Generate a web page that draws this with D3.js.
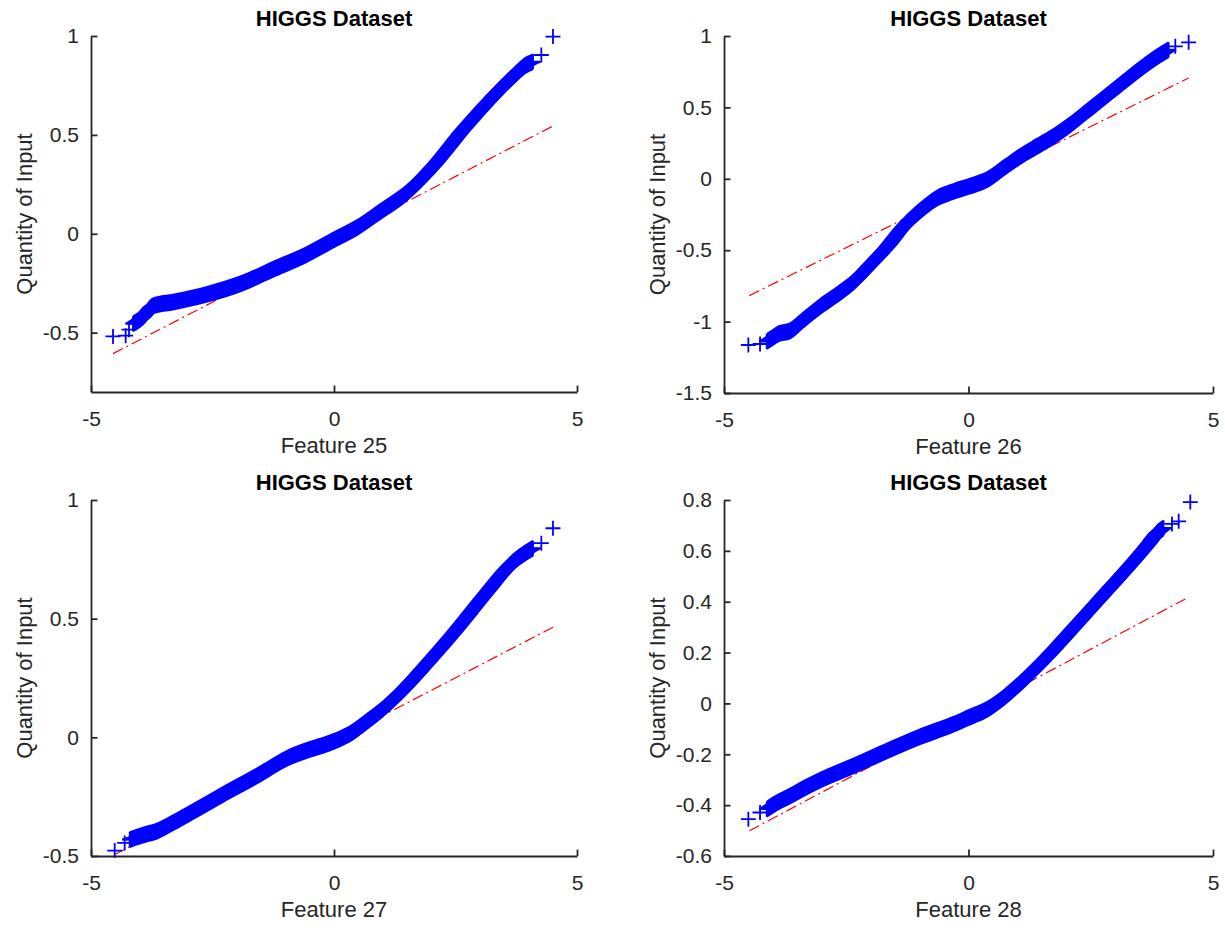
<!DOCTYPE html>
<html><head><meta charset="utf-8">
<script src="https://cdn.jsdelivr.net/npm/d3@7"></script>
<style>
body{margin:0;background:#fff;}
svg{display:block;}
text{font-family:"Liberation Sans",Arial,Helvetica,sans-serif;}
</style>
</head><body>
<svg id="chart" width="1225" height="930"></svg>
<script>
// ---------- DATA ----------
const chartTitle = "HIGGS Dataset";
const yLabel = "Quantity of Input";
const featureNames = ["Feature 25", "Feature 26", "Feature 27", "Feature 28"];
const xTickValues = [-5, 0, 5];

const f25_yDomain = [-0.8, 1];
const f26_yDomain = [-1.5, 1];
const f27_yDomain = [-0.5, 1];
const f28_yDomain = [-0.6, 0.8];
const f25_yTicks = [-0.5, 0, 0.5, 1];
const f26_yTicks = [-1.5, -1, -0.5, 0, 0.5, 1];
const f27_yTicks = [-0.5, 0, 0.5, 1];
const f28_yTicks = [-0.6, -0.4, -0.2, 0, 0.2, 0.4, 0.6, 0.8];

// theoretical (standard normal) quantiles and sample quantiles
const f25_q = [-4.547,-4.287,-4.218,-4.136,-4.033,-3.93,-3.724,-3.313,-2.627,-1.941,-1.255,-0.569,0,0.46,0.94,1.488,2.071,2.654,3.272,3.683,3.957,4.095,4.266,4.506];
const f25_v = [-0.519,-0.515,-0.485,-0.455,-0.44,-0.42,-0.364,-0.345,-0.307,-0.255,-0.18,-0.106,-0.03,0.029,0.11,0.205,0.35,0.525,0.694,0.795,0.854,0.870,0.904,0.997];
const f25_dense = [3, 21];   // index range where markers overlap into a band
const f25_refQ = [-4.547, 4.506];
const f25_refV = [-0.606, 0.545];

const f26_q = [-4.502,-4.263,-4.127,-4.025,-3.888,-3.649,-3.377,-3.035,-2.694,-2.353,-2.012,-1.671,-1.33,-0.989,-0.648,-0.307,0,0.375,0.716,1.057,1.398,1.739,2.081,2.422,2.763,3.104,3.445,3.718,3.922,4.093,4.229,4.502];
const f26_v = [-1.164,-1.157,-1.14,-1.117,-1.086,-1.065,-0.988,-0.895,-0.813,-0.724,-0.603,-0.479,-0.334,-0.224,-0.136,-0.089,-0.054,-0.007,0.075,0.157,0.227,0.297,0.379,0.472,0.565,0.659,0.752,0.822,0.869,0.904,0.928,0.956];
const f26_dense = [2, 29];
const f26_refQ = [-4.482, 4.502];
const f26_refV = [-0.818, 0.706];

const f27_q = [-4.513,-4.307,-4.204,-4.067,-3.896,-3.656,-3.313,-2.97,-2.284,-1.598,-0.912,-0.569,-0.226,0,0.322,0.665,1.008,1.351,1.955,2.517,3.1,3.697,3.957,4.095,4.266,4.506];
const f27_v = [-0.477,-0.445,-0.431,-0.421,-0.41,-0.396,-0.36,-0.321,-0.241,-0.164,-0.083,-0.056,-0.034,-0.017,0.014,0.065,0.12,0.185,0.32,0.453,0.6,0.741,0.78,0.797,0.818,0.881];
const f27_dense = [2, 23];
const f27_refQ = [-4.513, 4.506];
const f27_refV = [-0.494, 0.464];

const f28_q = [-4.502,-4.263,-4.127,-3.99,-3.854,-3.649,-3.377,-3.035,-2.353,-1.671,-0.989,-0.307,0,0.375,0.716,1.057,1.521,2.149,2.763,3.377,3.718,3.854,3.99,4.161,4.298,4.536];
const f28_v = [-0.455,-0.429,-0.416,-0.399,-0.384,-0.364,-0.335,-0.302,-0.246,-0.187,-0.131,-0.082,-0.056,-0.024,0.022,0.079,0.166,0.297,0.428,0.559,0.637,0.67,0.69,0.706,0.716,0.792];
const f28_dense = [2, 22];
const f28_refQ = [-4.482, 4.434];
const f28_refV = [-0.501, 0.411];

// ---------- LAYOUT ----------
const panels = [
  {name: featureNames[0], q: f25_q, v: f25_v, dense: f25_dense, refQ: f25_refQ, refV: f25_refV, yDomain: f25_yDomain, yTicks: f25_yTicks, left: 91, right: 577, top: 36, bottom: 392},
  {name: featureNames[1], q: f26_q, v: f26_v, dense: f26_dense, refQ: f26_refQ, refV: f26_refV, yDomain: f26_yDomain, yTicks: f26_yTicks, left: 724, right: 1213, top: 36, bottom: 393},
  {name: featureNames[2], q: f27_q, v: f27_v, dense: f27_dense, refQ: f27_refQ, refV: f27_refV, yDomain: f27_yDomain, yTicks: f27_yTicks, left: 91, right: 577, top: 500, bottom: 856},
  {name: featureNames[3], q: f28_q, v: f28_v, dense: f28_dense, refQ: f28_refQ, refV: f28_refV, yDomain: f28_yDomain, yTicks: f28_yTicks, left: 724, right: 1213, top: 500, bottom: 856}
];

const axisColor = "#262626";
const labelSize = 22;
const tickSize = 21;
const markerHalf = 7.5;
const markerStroke = 1.8;
const blue = "#0000ff";
const red = "#ff0000";

const svg = d3.select("#chart");
const fmt = d => String(d);

panels.forEach(p => {
  const x = d3.scaleLinear().domain([-5, 5]).range([p.left, p.right]);
  const y = d3.scaleLinear().domain(p.yDomain).range([p.bottom, p.top]);
  const g = svg.append("g");

  // reference line (drawn beneath the markers)
  const refPts = p.refQ.map((q, i) => [q, p.refV[i]]);
  g.append("path")
    .attr("d", d3.line().x(d => x(d[0])).y(d => y(d[1]))(refPts))
    .attr("fill", "none").attr("stroke", red).attr("stroke-width", 1.2)
    .attr("stroke-dasharray", "11,4,2,4");

  // dense run of overlapping '+' markers: sweep the plus shape along the curve
  const pts = p.q.map((q, i) => [q, p.v[i]]);
  const densePts = pts.slice(p.dense[0], p.dense[1] + 1);
  const curve = d3.line().x(d => x(d[0])).y(d => y(d[1])).curve(d3.curveMonotoneX)(densePts);
  const offs = d3.range(-markerHalf, markerHalf + 0.01, 1);
  const sweep = offs.map(o => [o, 0]).concat(offs.map(o => [0, o]));
  g.append("g").selectAll("path").data(sweep).join("path")
    .attr("d", curve)
    .attr("transform", d => `translate(${d[0]},${d[1]})`)
    .attr("fill", "none").attr("stroke", blue).attr("stroke-width", markerStroke);

  // individual '+' markers
  g.append("g").selectAll("path").data(pts).join("path")
    .attr("d", `M${-markerHalf},0H${markerHalf}M0,${-markerHalf}V${markerHalf}`)
    .attr("transform", d => `translate(${x(d[0])},${y(d[1])})`)
    .attr("fill", "none").attr("stroke", blue).attr("stroke-width", markerStroke);

  // axes
  const xAxis = d3.axisBottom(x).tickValues(xTickValues).tickFormat(fmt)
    .tickSizeInner(-6.5).tickSizeOuter(0).tickPadding(19);
  const yAxis = d3.axisLeft(y).tickValues(p.yTicks).tickFormat(fmt)
    .tickSizeInner(-6.5).tickSizeOuter(0).tickPadding(12);

  const gx = g.append("g").attr("transform", `translate(0,${p.bottom})`).call(xAxis);
  const gy = g.append("g").attr("transform", `translate(${p.left},0)`).call(yAxis);
  [gx, gy].forEach(a => {
    a.select(".domain").attr("stroke", axisColor).attr("stroke-width", 1.8);
    a.selectAll(".tick line").attr("stroke", axisColor).attr("stroke-width", 1.8);
    a.selectAll(".tick text").attr("fill", axisColor).style("font-size", tickSize + "px")
      .style("font-family", '"Liberation Sans",Arial,Helvetica,sans-serif');
  });

  // x label
  g.append("text")
    .attr("x", (p.left + p.right) / 2).attr("y", p.bottom + 61)
    .attr("text-anchor", "middle").attr("fill", axisColor)
    .style("font-size", labelSize + "px").text(p.name);

  // y label
  g.append("text")
    .attr("transform", `translate(${p.left - 59},${(p.top + p.bottom) / 2}) rotate(-90)`)
    .attr("text-anchor", "middle").attr("fill", axisColor)
    .style("font-size", labelSize + "px").text(yLabel);

  // title
  g.append("text")
    .attr("x", (p.left + p.right) / 2).attr("y", p.top - 10)
    .attr("text-anchor", "middle").attr("fill", "#000")
    .style("font-size", labelSize + "px").style("font-weight", "bold").text(chartTitle);
});
</script>
</body></html>
